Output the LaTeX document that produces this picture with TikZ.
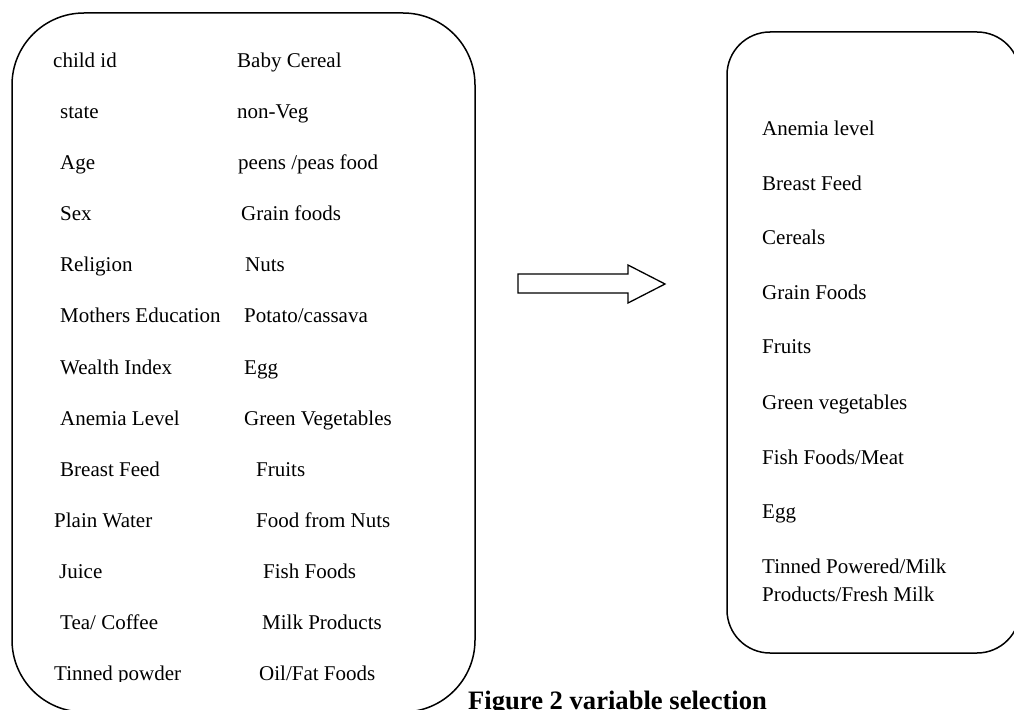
\documentclass[tikz,border=0pt]{standalone}
\usepackage{fontspec}
\setmainfont{Liberation Serif}
\begin{document}
\begin{tikzpicture}[x=1pt,y=-1pt,
  box/.style={draw, line width=1.5pt, rounded corners=#1, inner sep=0pt},
  lbl/.style={anchor=base west, inner sep=0pt, font=\fontsize{21}{25}\selectfont},
  blockarrow/.style={draw, line width=1.3pt, fill=white, line join=miter}
]
\clip (0,0) rectangle (1014,709);
% boxes
\node[box=72pt, minimum width=463pt, minimum height=699pt] (leftbox) at (243.5,362.5) {};
\node[box=43pt, minimum width=293pt, minimum height=621pt] (rightbox) at (873.5,342.5) {};
% left box texts
\begin{scope}
\clip (0,0) rectangle (1014,681);
\node[lbl] (l1)  at (53,67)  {child id};
\node[lbl] (l2)  at (60,118) {state};
\node[lbl] (l3)  at (60,169) {Age};
\node[lbl] (l4)  at (60,220) {Sex};
\node[lbl] (l5)  at (60,271) {Religion};
\node[lbl] (l6)  at (60,322) {Mothers Education};
\node[lbl] (l7)  at (60,374) {Wealth Index};
\node[lbl] (l8)  at (60,425) {Anemia Level};
\node[lbl] (l9)  at (60,476) {Breast Feed};
\node[lbl] (l10) at (54,527) {Plain Water};
\node[lbl] (l11) at (59,578) {Juice};
\node[lbl] (l12) at (60,629) {Tea/ Coffee};
\node[lbl] (l13) at (54,680) {Tinned powder};
\node[lbl] (r1)  at (237,67)  {Baby Cereal};
\node[lbl] (r2)  at (237,118) {non-Veg};
\node[lbl] (r3)  at (238,169) {peens /peas food};
\node[lbl] (r4)  at (241,220) {Grain foods};
\node[lbl] (r5)  at (245,271) {Nuts};
\node[lbl] (r6)  at (244,322) {Potato/cassava};
\node[lbl] (r7)  at (244,374) {Egg};
\node[lbl] (r8)  at (244,425) {Green Vegetables};
\node[lbl] (r9)  at (256,476) {Fruits};
\node[lbl] (r10) at (256,527) {Food from Nuts};
\node[lbl] (r11) at (263,578) {Fish Foods};
\node[lbl] (r12) at (262,629) {Milk Products};
\node[lbl] (r13) at (259,680) {Oil/Fat Foods};
\end{scope}
% right box texts
\node[lbl] (s1)  at (762,135) {Anemia level};
\node[lbl] (s2)  at (762,190) {Breast Feed};
\node[lbl] (s3)  at (762,244) {Cereals};
\node[lbl] (s4)  at (762,299) {Grain Foods};
\node[lbl] (s5)  at (762,353) {Fruits};
\node[lbl] (s6)  at (762,409) {Green vegetables};
\node[lbl] (s7)  at (762,464) {Fish Foods/Meat};
\node[lbl] (s8)  at (762,518) {Egg};
\node[lbl] (s9)  at (762,573) {Tinned Powered/Milk};
\node[lbl] (s10) at (762,601) {Products/Fresh Milk};
% block arrow
\coordinate (a1) at (518,274);
\coordinate (a2) at (628,274);
\coordinate (a3) at (628,265);
\coordinate (a4) at (665,284);
\coordinate (a5) at (628,303);
\coordinate (a6) at (628,293);
\coordinate (a7) at (518,293);
\draw[blockarrow] (a1) -- (a2) -- (a3) -- (a4) -- (a5) -- (a6) -- (a7) -- cycle;
% caption
\node[anchor=base west, inner sep=0pt, font=\fontsize{26.6}{30}\selectfont\bfseries] (caption) at (468,709) {Figure 2 variable selection};
\end{tikzpicture}
\end{document}
